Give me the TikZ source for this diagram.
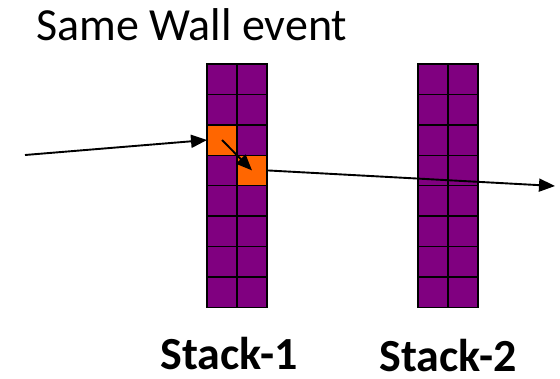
\documentclass[tikz,border=0pt]{standalone}
\usepackage{fontspec}
\setmainfont{Carlito}
\usepackage{xcolor}
\usepackage{tikz}
\usetikzlibrary{arrows.meta}

\definecolor{cellpurple}{RGB}{128,0,128}
\definecolor{cellorange}{RGB}{255,102,0}

\begin{document}
\begin{tikzpicture}[x=1pt,y=-1pt,
  cell/.style={draw=black, line width=1.4pt, fill=cellpurple, minimum width=30pt, minimum height=30.4pt, inner sep=0pt, outer sep=0pt},
  hit/.style={fill=cellorange},
  track/.style={line width=1.9pt, -{Triangle[length=16pt,width=13pt]}},
  label/.style={font=\fontsize{46}{55}\selectfont, inner sep=0pt},
  stacklabel/.style={font=\fontsize{46}{55}\selectfont\bfseries, inner sep=0pt, anchor=base}]
\useasboundingbox (0,0) rectangle (560,378);

% Title
\node[label, anchor=base west] (title) at (36,40) {Same Wall event};

% Two stacks of 8 x 2 cells
\foreach \s/\xo in {1/207, 2/418} {
  \foreach \r in {1,...,8} {
    \foreach \c in {1,2} {
      \node[cell] (s\s-\r-\c) at ({\xo+30*\c-15}, {64+30.4*\r-15.2}) {};
    }
  }
}

% Cells that were hit
\node[cell, hit] (hit1) at (s1-3-1) {};
\node[cell, hit] (hit2) at (s1-4-2) {};

% Track through the stacks
\coordinate (in) at (25,155);
\coordinate (out) at (555,186);
\draw[track] (in) -- (hit1.west);
\draw[track] (hit1.center) -- (hit2.center);
\draw[track] (hit2.east) -- (out);

% Stack names
\node[stacklabel] (name1) at (229,369) {Stack-1};
\node[stacklabel] (name2) at (448,371) {Stack-2};
\end{tikzpicture}
\end{document}
